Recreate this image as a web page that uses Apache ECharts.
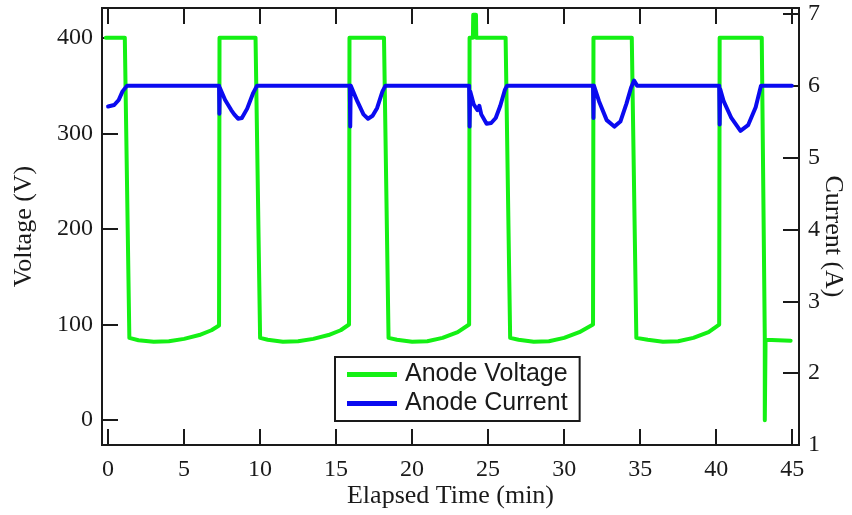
<!DOCTYPE html>
<html>
<head>
<meta charset="utf-8">
<script src="https://cdn.jsdelivr.net/npm/echarts@6/dist/echarts.min.js"></script>
<style>
html,body{margin:0;padding:0;background:#fff;}
#chart{width:852px;height:515px;}
</style>
</head>
<body>
<div id="chart"></div>
<script>
// ---- Data ----
var xTicks = [0, 5, 10, 15, 20, 25, 30, 35, 40, 45];
var voltageTicks = [0, 100, 200, 300, 400];
var currentTicks = [1, 2, 3, 4, 5, 6, 7];

// Anode Voltage (V) vs elapsed time (min)
var anodeVoltage = [
  [-0.15, 400], [1.1, 400], [1.4, 86], [2, 83.5], [3, 82], [4, 82.5], [5, 85], [6, 89], [6.8, 94], [7.3, 99],
  [7.33, 400], [9.7, 400], [10.0, 86], [10.5, 84], [11.5, 82], [12.5, 82.5], [13.5, 85], [14.5, 89], [15.3, 94], [15.85, 100],
  [15.88, 400], [18.15, 400], [18.45, 86], [19, 84], [20, 82], [21, 82.5], [22, 86], [23, 92], [23.75, 100],
  [23.78, 400], [24.0, 400], [24.02, 424], [24.2, 424], [24.22, 400], [26.15, 400], [26.45, 86], [27, 84], [28, 82], [29, 82.5], [30, 86], [31, 92], [31.9, 100],
  [31.93, 400], [34.45, 400], [34.75, 86], [35.5, 84], [36.5, 82], [37.5, 82.5], [38.5, 86], [39.5, 92], [40.2, 100],
  [40.23, 400], [43.0, 400], [43.2, 86], [43.2, 0], [43.25, 84], [44.9, 83]
];

// Anode Current (A) vs elapsed time (min)
var anodeCurrent = [
  [0, 5.71], [0.4, 5.73], [0.7, 5.8], [0.95, 5.92], [1.25, 6.0],
  [7.3, 6.0], [7.32, 5.61], [7.35, 5.97], [7.7, 5.8], [8.1, 5.66], [8.3, 5.6], [8.4, 5.62], [8.55, 5.54], [8.8, 5.55], [9.15, 5.68], [9.55, 5.9], [9.8, 6.0],
  [15.9, 6.0], [15.93, 5.43], [15.96, 6.0], [16.4, 5.78], [16.8, 5.6], [17.1, 5.54], [17.4, 5.58], [17.7, 5.69], [18.05, 5.92], [18.25, 6.0],
  [23.75, 6.0], [23.78, 5.43], [23.82, 5.92], [24.05, 5.74], [24.3, 5.66], [24.42, 5.72], [24.55, 5.6], [24.9, 5.47], [25.2, 5.48], [25.5, 5.55], [25.8, 5.72], [26.1, 5.94], [26.25, 6.0],
  [31.9, 6.0], [31.93, 5.55], [31.96, 6.0], [32.3, 5.78], [32.8, 5.52], [33.3, 5.43], [33.7, 5.5], [34.1, 5.75], [34.4, 5.97], [34.6, 6.07], [34.8, 6.0],
  [40.2, 6.0], [40.23, 5.46], [40.27, 5.95], [40.5, 5.78], [41.0, 5.55], [41.6, 5.37], [42.1, 5.45], [42.6, 5.7], [42.95, 6.0], [44.98, 6.0]
];

var serif = '"Liberation Serif", "Times New Roman", serif';
var sans = '"Liberation Sans", Arial, sans-serif';
var ink = '#1a1a1a';

function tickStyle(vals) {
  return {show: true, inside: true, length: 16, lineStyle: {color: ink, width: 2}, customValues: vals};
}
var axisLineStyle = {show: true, onZero: false, lineStyle: {color: ink, width: 2}};

var chart = echarts.init(document.getElementById('chart'), null, {renderer: 'canvas'});
chart.setOption({
  animation: false,
  backgroundColor: '#fff',
  grid: {left: 102, right: 53, top: 8, bottom: 70, containLabel: false, outerBoundsMode: 'none',
         show: true, borderColor: ink, borderWidth: 2, backgroundColor: 'transparent'},
  legend: {
    left: 335, top: 357, orient: 'vertical',
    padding: [5, 12, 5, 12],
    itemGap: 4, itemWidth: 50, itemHeight: 5, icon: 'rect',
    borderColor: ink, borderWidth: 2, backgroundColor: '#fff',
    textStyle: {fontFamily: sans, fontSize: 25, lineHeight: 25, color: ink, padding: [0, 0, 0, 3]},
    data: ['Anode Voltage', 'Anode Current']
  },
  xAxis: [{
    type: 'value', min: -0.4, max: 45.45, position: 'bottom',
    axisLine: axisLineStyle,
    axisTick: tickStyle(xTicks),
    axisLabel: {show: true, customValues: xTicks, fontFamily: serif, fontSize: 24, color: ink, margin: 13},
    splitLine: {show: false},
    name: 'Elapsed Time (min)', nameLocation: 'middle', nameGap: 38, nameMoveOverlap: false,
    nameTextStyle: {fontFamily: serif, fontSize: 26, color: ink}
  }, {
    type: 'value', min: -0.4, max: 45.45, position: 'top',
    axisLine: axisLineStyle,
    axisTick: tickStyle(xTicks),
    axisLabel: {show: false},
    splitLine: {show: false}
  }],
  yAxis: [{
    type: 'value', min: -26, max: 431, position: 'left',
    axisLine: axisLineStyle,
    axisTick: tickStyle(voltageTicks),
    axisLabel: {show: true, customValues: voltageTicks, fontFamily: serif, fontSize: 24, color: ink, margin: 9},
    splitLine: {show: false},
    name: 'Voltage (V)', nameLocation: 'middle', nameGap: 65, nameRotate: 90, nameMoveOverlap: false,
    nameTextStyle: {fontFamily: serif, fontSize: 26, color: ink}
  }, {
    type: 'value', min: 1, max: 7.08, position: 'right',
    axisLine: axisLineStyle,
    axisTick: tickStyle(currentTicks),
    axisLabel: {show: true, customValues: currentTicks, fontFamily: serif, fontSize: 24, color: ink, margin: 9},
    splitLine: {show: false},
    name: 'Current (A)', nameLocation: 'middle', nameGap: 21, nameRotate: -90, nameMoveOverlap: false,
    nameTextStyle: {fontFamily: serif, fontSize: 26, color: ink, padding: [0, 0, 0, 20]}
  }],
  series: [{
    name: 'Anode Voltage', type: 'line', xAxisIndex: 0, yAxisIndex: 0,
    data: anodeVoltage, showSymbol: false, symbol: 'none',
    lineStyle: {color: '#14f014', width: 4, join: 'round', cap: 'round'},
    itemStyle: {color: '#14f014'}
  }, {
    name: 'Anode Current', type: 'line', xAxisIndex: 0, yAxisIndex: 1,
    data: anodeCurrent, showSymbol: false, symbol: 'none', smooth: false,
    lineStyle: {color: '#0a0af0', width: 4, join: 'round', cap: 'round'},
    itemStyle: {color: '#0a0af0'}
  }]
});
</script>
</body>
</html>
